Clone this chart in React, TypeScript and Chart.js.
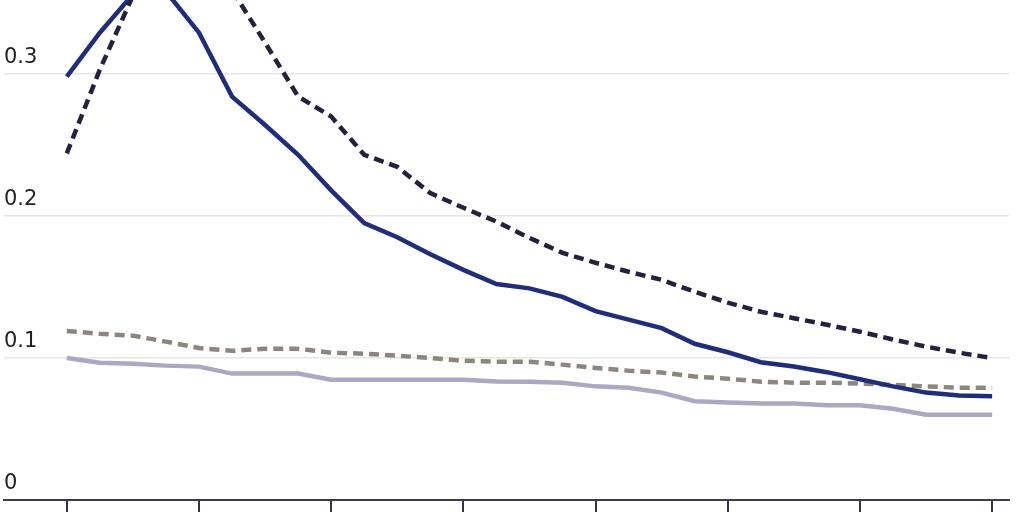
import React, { useEffect, useRef } from "react";
import Chart from "chart.js/auto";

// one point per period, tick every 4th period
const xTicks = [0, 4, 8, 12, 16, 20, 24, 28];
const yTicks = [0, 0.1, 0.2, 0.3];
const yTickLabels = ["0", "0.1", "0.2", "0.3"];

const navySolid = [
  0.298, 0.329, 0.356, 0.358, 0.329, 0.284, 0.264, 0.243, 0.218, 0.195,
  0.185, 0.173, 0.162, 0.152, 0.149, 0.143, 0.133, 0.127, 0.121, 0.11,
  0.104, 0.097, 0.094, 0.09, 0.085, 0.08, 0.0756, 0.0735, 0.073,
];
const darkDashed = [
  0.244, 0.303, 0.355, 0.38, 0.385, 0.359, 0.322, 0.284, 0.27, 0.243,
  0.2346, 0.216, 0.2057, 0.196, 0.1845, 0.174, 0.167, 0.1607, 0.155, 0.1466,
  0.139, 0.1325, 0.128, 0.1234, 0.1185, 0.113, 0.108, 0.1037, 0.1,
];
const grayDashed = [
  0.119, 0.117, 0.1157, 0.1115, 0.107, 0.105, 0.1065, 0.1065, 0.1037, 0.103,
  0.1016, 0.1, 0.098, 0.0974, 0.0974, 0.0953, 0.093, 0.091, 0.0897, 0.0869,
  0.0854, 0.0833, 0.0826, 0.0826, 0.082, 0.081, 0.08, 0.079, 0.079,
];
const lavenderSolid = [
  0.1, 0.0967, 0.096, 0.0946, 0.0939, 0.089, 0.089, 0.089, 0.0847, 0.0847,
  0.0847, 0.0847, 0.0847, 0.0835, 0.0833, 0.0826, 0.08, 0.079, 0.0756, 0.0695,
  0.0686, 0.0679, 0.0679, 0.0667, 0.0667, 0.0643, 0.06, 0.06, 0.06,
];

const toPoints = (arr: number[]) => arr.map((y, i) => ({ x: i, y }));

function LineChart() {
  const chartRef = useRef<HTMLCanvasElement>(null);

  useEffect(() => {
    document.body.style.margin = "0";
    if (!chartRef.current) return;
    const ctx = chartRef.current.getContext("2d");
    if (!ctx) return;

    const chart = new Chart(ctx, {
      type: "line",
      data: {
        datasets: [
          {
            data: toPoints(darkDashed),
            borderColor: "#23213b",
            borderWidth: 4.5,
            borderDash: [10, 6],
            pointRadius: 0,
          },
          {
            data: toPoints(navySolid),
            borderColor: "#1f2d7b",
            borderWidth: 4.5,
            pointRadius: 0,
          },
          {
            data: toPoints(grayDashed),
            borderColor: "#8c867e",
            borderWidth: 4.5,
            borderDash: [10, 6],
            pointRadius: 0,
          },
          {
            data: toPoints(lavenderSolid),
            borderColor: "#aba8c3",
            borderWidth: 4.5,
            pointRadius: 0,
          },
        ],
      },
      options: {
        animation: false,
        responsive: false,
        layout: { padding: { left: 4, right: 15, top: 0, bottom: 0 } },
        plugins: {
          legend: { display: false },
          tooltip: { enabled: false },
        },
        scales: {
          x: {
            type: "linear",
            min: -1.9,
            max: 28.51,
            afterBuildTicks: (scale) => {
              scale.ticks = xTicks.map((value) => ({ value }));
            },
            grid: {
              drawOnChartArea: false,
              drawTicks: true,
              tickLength: 12,
              color: "#333344",
              lineWidth: 2,
            },
            border: { display: true, color: "#3b3b55", width: 2 },
            ticks: { display: false },
          },
          y: {
            min: 0,
            max: 0.352,
            afterBuildTicks: (scale) => {
              scale.ticks = yTicks.map((value) => ({ value }));
            },
            // labels sit inside the plot, so no extra room above/below
            afterFit: (scale) => {
              scale.paddingTop = 0;
              scale.paddingBottom = 0;
            },
            grid: {
              drawTicks: false,
              color: "#e6e6e6",
              lineWidth: 1.5,
            },
            border: { display: false },
            ticks: {
              mirror: true,
              padding: 0,
              labelOffset: -16,
              color: "#222222",
              font: { family: "DejaVu Sans", size: 21 },
              callback: (value) => yTickLabels[yTicks.indexOf(Number(value))] ?? "",
            },
          },
        },
      },
    });

    return () => {
      chart.destroy();
    };
  }, []);

  return (
    <div style={{ width: 1024, height: 512, position: "relative" }}>
      <canvas ref={chartRef} width={1024} height={512} style={{ display: "block" }} />
    </div>
  );
}

export default function App() {
  return <LineChart />;
}
